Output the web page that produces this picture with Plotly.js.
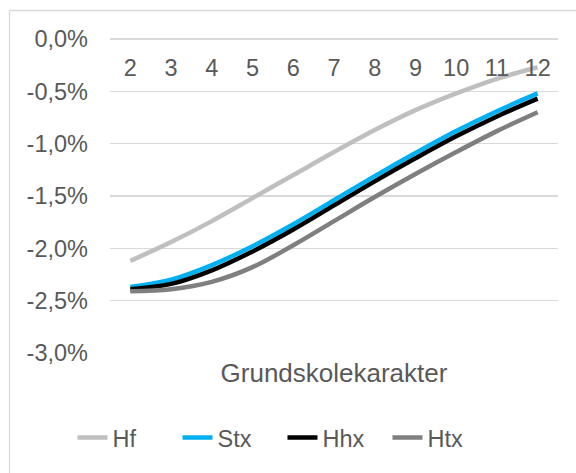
<!DOCTYPE html>
<html>
<head>
<meta charset="utf-8">
<script src="https://cdn.plot.ly/plotly-3.0.1.min.js"></script>
<style>html,body{margin:0;padding:0;background:#fff;}#chart{width:576px;height:473px;}</style>
</head>
<body>
<div id="chart"></div>
<script>
const grades = ['2','3','4','5','6','7','8','9','10','11','12'];
const hf  = [-2.12, -1.94, -1.74, -1.52, -1.30, -1.08, -0.87, -0.68, -0.52, -0.38, -0.27];
const stx = [-2.37, -2.30, -2.16, -1.98, -1.77, -1.54, -1.31, -1.09, -0.88, -0.69, -0.52];
const hhx = [-2.39, -2.34, -2.21, -2.03, -1.82, -1.59, -1.36, -1.14, -0.93, -0.74, -0.57];
const htx = [-2.41, -2.39, -2.32, -2.18, -1.97, -1.74, -1.51, -1.29, -1.08, -0.88, -0.70];
const seriesNames = ['Hf','Stx','Hhx','Htx'];
const seriesColors = ['#BFBFBF','#00B0F0','#000000','#7F7F7F'];
const yTickVals = [0, -0.5, -1, -1.5, -2, -2.5, -3];
const yTickText = ['0,0%','-0,5%','-1,0%','-1,5%','-2,0%','-2,5%','-3,0%'];
const xTitle = 'Grundskolekarakter';

const font = 'Liberation Sans, Arial, sans-serif';
const txt = '#595959';
const fs = 23.5;
const seriesData = [hf, stx, hhx, htx];
const traces = seriesData.map((vals, i) => ({
  type: 'scatter', mode: 'lines', x: grades, y: vals, name: seriesNames[i],
  line: {color: seriesColors[i], width: 4.5, shape: 'spline', smoothing: 1},
  hoverinfo: 'skip'
}));

const layout = {
  width: 576, height: 473,
  margin: {l: 110, r: 18, t: 39, b: 120, pad: 0},
  paper_bgcolor: '#fff', plot_bgcolor: '#fff',
  font: {family: font, size: fs, color: txt},
  showlegend: true,
  legend: {orientation: 'h', x: 0.385, xanchor: 'center', y: -0.27, yanchor: 'middle',
           entrywidth: 60, entrywidthmode: 'pixels',
           font: {family: font, size: fs, color: txt}, bgcolor: 'rgba(0,0,0,0)'},
  xaxis: {type: 'category', categoryorder: 'array', categoryarray: grades,
          range: [-0.5, 10.5], anchor: 'free', position: 1, side: 'bottom',
          showgrid: false, zeroline: false, showline: false, ticks: '',
          ticklabelstandoff: 12, tickfont: {family: font, size: fs, color: txt}},
  xaxis2: {overlaying: 'x', anchor: 'y', side: 'bottom', range: [-0.5, 10.5],
           showgrid: false, zeroline: false, showline: false, showticklabels: false, ticks: '',
           title: {text: xTitle, standoff: 10, font: {family: font, size: 26, color: txt}}},
  yaxis: {range: [-3, 0], tickvals: yTickVals, ticktext: yTickText,
          showgrid: true, gridcolor: '#D9D9D9', gridwidth: 1.2,
          zeroline: true, zerolinecolor: '#D9D9D9', zerolinewidth: 1.2,
          showline: false, ticks: '', ticklabelstandoff: 21,
          tickfont: {family: font, size: fs, color: txt}},
  shapes: [
    {type: 'line', xref: 'paper', yref: 'paper', x0: -0.2243, x1: -0.2243, y0: -1, y1: 1.0907,
     line: {color: '#D9D9D9', width: 1.3}},
    {type: 'line', xref: 'paper', yref: 'paper', x0: -0.2243, x1: 1.5, y0: 1.0907, y1: 1.0907,
     line: {color: '#D9D9D9', width: 1.3}}
  ]
};
traces.push({type: 'scatter', x: [0], y: [0], xaxis: 'x2', yaxis: 'y', mode: 'none',
             showlegend: false, hoverinfo: 'skip'});
Plotly.newPlot('chart', traces, layout, {staticPlot: true, displayModeBar: false});
</script>
</body>
</html>
